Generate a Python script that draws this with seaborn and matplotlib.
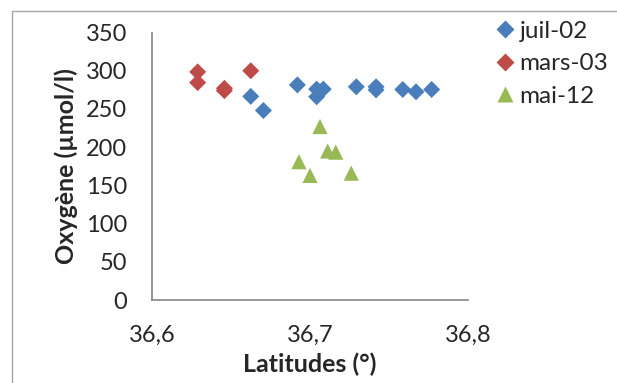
import matplotlib
matplotlib.use('Agg')
import matplotlib.pyplot as plt
from matplotlib.patches import Rectangle
from matplotlib.ticker import FuncFormatter
import pandas as pd
import seaborn as sns

# juil-02
lat_juil = [36.6625, 36.6705, 36.692, 36.7042, 36.7042, 36.7084, 36.7293,
            36.7418, 36.7418, 36.7587, 36.7671, 36.777]
oxy_juil = [266.5, 248, 281.5, 276, 266, 276, 279, 279, 275, 275.5, 272.5, 275.5]

# mars-03
lat_mars = [36.6289, 36.6289, 36.6458, 36.6458, 36.6625]
oxy_mars = [298.5, 284.5, 277, 274, 300]

# mai-12
lat_mai = [36.7063, 36.7112, 36.7163, 36.693, 36.700, 36.7261]
oxy_mai = [227, 195, 193.5, 181, 163, 166]

series = ['juil-02', 'mars-03', 'mai-12']
colors = {'juil-02': '#4A7EBB', 'mars-03': '#BE4B48', 'mai-12': '#98B954'}
markers = {'juil-02': 'D', 'mars-03': 'D', 'mai-12': '^'}
sizes = {'juil-02': 75, 'mars-03': 75, 'mai-12': 120}

df = pd.concat([
    pd.DataFrame({'lat': lat_juil, 'oxy': oxy_juil, 'serie': 'juil-02'}),
    pd.DataFrame({'lat': lat_mars, 'oxy': oxy_mars, 'serie': 'mars-03'}),
    pd.DataFrame({'lat': lat_mai, 'oxy': oxy_mai, 'serie': 'mai-12'}),
])

sns.set_style('white')
plt.rcParams['font.family'] = ['Lato', 'DejaVu Sans']

fig = plt.figure(figsize=(6.17, 3.83), dpi=100)
fig.patches.append(Rectangle((12 / 617, -0.1), 1.2, 1 - 11 / 383 + 0.1,
                             transform=fig.transFigure, fill=False,
                             edgecolor='#A6A6A6', linewidth=1))
ax = fig.add_axes([0.2464, 0.2167, 0.5121, 0.6983])

sns.scatterplot(data=df, x='lat', y='oxy', hue='serie', style='serie',
                size='serie', sizes=sizes,
                hue_order=series, style_order=series, size_order=series,
                palette=colors, markers=markers, edgecolor='none', ax=ax,
                clip_on=False)

ax.set_xlim(36.6, 36.8)
ax.set_ylim(0, 350)
ax.set_xticks([36.6, 36.7, 36.8])
ax.set_yticks(range(0, 351, 50))
ax.xaxis.set_major_formatter(FuncFormatter(lambda v, p: f'{v:.1f}'.replace('.', ',')))

for side in ['top', 'right']:
    ax.spines[side].set_visible(False)
for side in ['left', 'bottom']:
    ax.spines[side].set_color('#868686')
    ax.spines[side].set_linewidth(1.2)
ax.tick_params(axis='both', which='major', direction='out', length=5.8, width=1.2,
               color='#868686', labelsize=17)
ax.tick_params(axis='x', pad=12)
ax.tick_params(axis='y', pad=12)

ax.set_xlabel('Latitudes (°)', fontsize=18, fontweight='bold', labelpad=5)
ax.set_ylabel('Oxygène (µmol/l)', fontsize=18, fontweight='bold', labelpad=6)

ax.legend(loc='upper left', bbox_to_anchor=(1.082, 1.045), frameon=False,
          fontsize=17.5, handletextpad=0.15, labelspacing=0.48,
          borderaxespad=0, borderpad=0, handlelength=0.9)

fig.savefig('out.png', dpi=100)
